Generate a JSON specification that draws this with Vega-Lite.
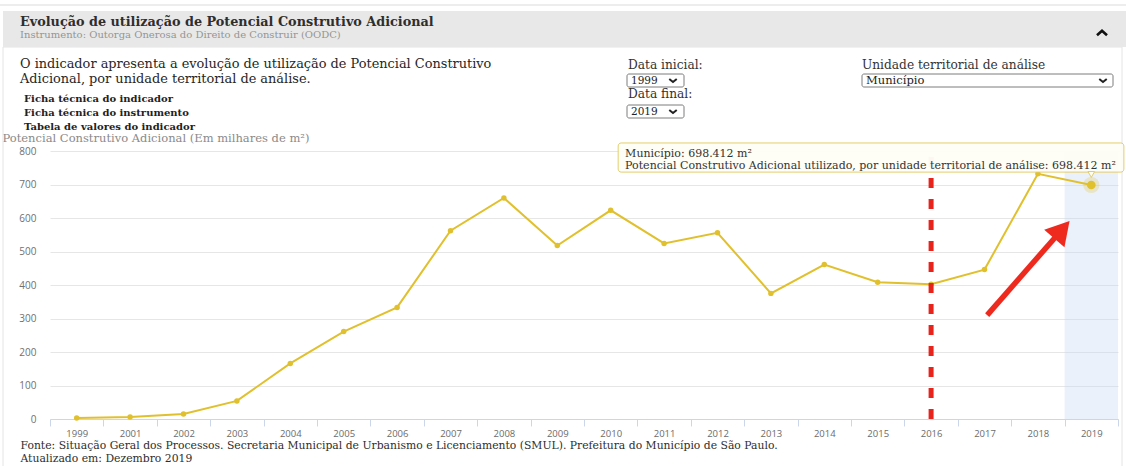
{
  "$schema": "https://vega.github.io/schema/vega-lite/v6.json",
  "width": 1068,
  "height": 268,
  "autosize": {"type": "none"},
  "padding": {"left": 50, "top": 151, "right": 8, "bottom": 47},
  "background": "#ffffff",
  "config": {"view": {"stroke": null}},
  "resolve": {"scale": {"x": "independent", "y": "independent"}},
  "layer": [
    {
      "data": {"values": [{"peca": "linha superior"}]},
      "mark": {"type": "rect", "fill": "#ededed"},
      "encoding": {"x": {"value": -50}, "x2": {"value": 1076}, "y": {"value": -147}, "y2": {"value": -145}}
    },
    {
      "data": {"values": [{"peca": "moldura"}]},
      "mark": {"type": "rect", "fill": null, "stroke": "#e4e4e4", "strokeWidth": 1},
      "encoding": {"x": {"value": -47}, "x2": {"value": 1072}, "y": {"value": -104}, "y2": {"value": 320}}
    },
    {
      "data": {"values": [{"peca": "cabeçalho"}]},
      "mark": {"type": "rect", "fill": "#e8e8e8"},
      "encoding": {"x": {"value": -47}, "x2": {"value": 1076}, "y": {"value": -140}, "y2": {"value": -104}}
    },
    {
      "data": {"values": [{"texto": "Evolução de utilização de Potencial Construtivo Adicional"}]},
      "mark": {"type": "text", "align": "left", "baseline": "alphabetic", "font": "DejaVu Serif", "fontWeight": "bold", "fontSize": 12.8, "color": "#2e2e2e"},
      "encoding": {"x": {"value": -30}, "y": {"value": -125}, "text": {"field": "texto"}}
    },
    {
      "data": {"values": [{"texto": "Instrumento: Outorga Onerosa do Direito de Construir (OODC)"}]},
      "mark": {"type": "text", "align": "left", "baseline": "alphabetic", "font": "DejaVu Serif", "fontSize": 10, "color": "#959595"},
      "encoding": {"x": {"value": -30}, "y": {"value": -113}, "text": {"field": "texto"}}
    },
    {
      "data": {"values": [{"peca": "recolher"}]},
      "mark": {"type": "point", "shape": "M-1,0.45L0,-0.45L1,0.45", "filled": false, "stroke": "#111111", "strokeWidth": 2.6, "size": 100, "opacity": 1},
      "encoding": {"x": {"value": 1052}, "y": {"value": -118}}
    },
    {
      "data": {"values": [{"texto": ["O indicador apresenta a evolução de utilização de Potencial Construtivo", "Adicional, por unidade territorial de análise."]}]},
      "mark": {"type": "text", "align": "left", "baseline": "alphabetic", "font": "DejaVu Serif", "fontSize": 12.9, "lineHeight": 14.5, "color": "#262626"},
      "encoding": {"x": {"value": -30}, "y": {"value": -83}, "text": {"field": "texto"}}
    },
    {
      "data": {"values": [{"texto": ["Ficha técnica do indicador", "Ficha técnica do instrumento", "Tabela de valores do indicador"]}]},
      "mark": {"type": "text", "align": "left", "baseline": "alphabetic", "font": "DejaVu Serif", "fontWeight": "bold", "fontSize": 10, "lineHeight": 14, "color": "#222222"},
      "encoding": {"x": {"value": -26}, "y": {"value": -49}, "text": {"field": "texto"}}
    },
    {
      "data": {"values": [{"texto": "Data inicial:"}]},
      "mark": {"type": "text", "align": "left", "baseline": "alphabetic", "font": "DejaVu Serif", "fontSize": 12.2, "color": "#333333"},
      "encoding": {"x": {"value": 578}, "y": {"value": -82}, "text": {"field": "texto"}}
    },
    {
      "data": {"values": [{"texto": "Data final:"}]},
      "mark": {"type": "text", "align": "left", "baseline": "alphabetic", "font": "DejaVu Serif", "fontSize": 12.2, "color": "#333333"},
      "encoding": {"x": {"value": 578}, "y": {"value": -53}, "text": {"field": "texto"}}
    },
    {
      "data": {"values": [{"texto": "Unidade territorial de análise"}]},
      "mark": {"type": "text", "align": "left", "baseline": "alphabetic", "font": "DejaVu Serif", "fontSize": 12.2, "color": "#333333"},
      "encoding": {"x": {"value": 812}, "y": {"value": -82}, "text": {"field": "texto"}}
    },
    {
      "data": {"values": [{"peca": "seletor inicial"}]},
      "mark": {"type": "rect", "fill": "#ffffff", "stroke": "#7d7d7d", "strokeWidth": 1, "cornerRadius": 2},
      "encoding": {"x": {"value": 577}, "x2": {"value": 634}, "y": {"value": -77}, "y2": {"value": -64}}
    },
    {
      "data": {"values": [{"peca": "seletor final"}]},
      "mark": {"type": "rect", "fill": "#ffffff", "stroke": "#7d7d7d", "strokeWidth": 1, "cornerRadius": 2},
      "encoding": {"x": {"value": 577}, "x2": {"value": 634}, "y": {"value": -46}, "y2": {"value": -33}}
    },
    {
      "data": {"values": [{"peca": "seletor unidade"}]},
      "mark": {"type": "rect", "fill": "#ffffff", "stroke": "#7d7d7d", "strokeWidth": 1, "cornerRadius": 2},
      "encoding": {"x": {"value": 812}, "x2": {"value": 1063}, "y": {"value": -77}, "y2": {"value": -64}}
    },
    {
      "data": {"values": [{"texto": "1999"}]},
      "mark": {"type": "text", "align": "left", "baseline": "alphabetic", "font": "DejaVu Serif", "fontSize": 10.5, "color": "#222222"},
      "encoding": {"x": {"value": 581}, "y": {"value": -67}, "text": {"field": "texto"}}
    },
    {
      "data": {"values": [{"texto": "2019"}]},
      "mark": {"type": "text", "align": "left", "baseline": "alphabetic", "font": "DejaVu Serif", "fontSize": 10.5, "color": "#222222"},
      "encoding": {"x": {"value": 581}, "y": {"value": -36}, "text": {"field": "texto"}}
    },
    {
      "data": {"values": [{"texto": "Município"}]},
      "mark": {"type": "text", "align": "left", "baseline": "alphabetic", "font": "DejaVu Serif", "fontSize": 11.5, "color": "#222222"},
      "encoding": {"x": {"value": 816}, "y": {"value": -67}, "text": {"field": "texto"}}
    },
    {
      "data": {"values": [{"peca": "seta 1"}]},
      "mark": {"type": "point", "shape": "M-1,-0.4L0,0.4L1,-0.4", "filled": false, "stroke": "#222222", "strokeWidth": 2, "size": 56, "opacity": 1},
      "encoding": {"x": {"value": 623}, "y": {"value": -70.5}}
    },
    {
      "data": {"values": [{"peca": "seta 2"}]},
      "mark": {"type": "point", "shape": "M-1,-0.4L0,0.4L1,-0.4", "filled": false, "stroke": "#222222", "strokeWidth": 2, "size": 56, "opacity": 1},
      "encoding": {"x": {"value": 623}, "y": {"value": -39.5}}
    },
    {
      "data": {"values": [{"peca": "seta 3"}]},
      "mark": {"type": "point", "shape": "M-1,-0.4L0,0.4L1,-0.4", "filled": false, "stroke": "#222222", "strokeWidth": 2, "size": 56, "opacity": 1},
      "encoding": {"x": {"value": 1053}, "y": {"value": -70.5}}
    },
    {
      "data": {"values": [{"ano": "2019"}]},
      "mark": {"type": "rect", "fill": "#c9dbf5", "opacity": 0.38},
      "encoding": {
        "x": {"field": "ano", "type": "ordinal", "scale": {"type": "band", "domain": ["1999", "2001", "2002", "2003", "2004", "2005", "2006", "2007", "2008", "2009", "2010", "2011", "2012", "2013", "2014", "2015", "2016", "2017", "2018", "2019"], "paddingInner": 0, "paddingOuter": 0}, "axis": null},
        "y": {"datum": 800, "type": "quantitative", "scale": {"domain": [0, 800], "nice": false}, "axis": null},
        "y2": {"datum": 0}
      }
    },
    {
      "data": {
        "values": [
          {"ano": "1999", "valor": 3},
          {"ano": "2001", "valor": 6},
          {"ano": "2002", "valor": 15},
          {"ano": "2003", "valor": 54},
          {"ano": "2004", "valor": 166},
          {"ano": "2005", "valor": 261},
          {"ano": "2006", "valor": 333},
          {"ano": "2007", "valor": 562},
          {"ano": "2008", "valor": 660},
          {"ano": "2009", "valor": 518},
          {"ano": "2010", "valor": 623},
          {"ano": "2011", "valor": 524},
          {"ano": "2012", "valor": 556},
          {"ano": "2013", "valor": 375},
          {"ano": "2014", "valor": 461},
          {"ano": "2015", "valor": 408},
          {"ano": "2016", "valor": 402},
          {"ano": "2017", "valor": 446},
          {"ano": "2018", "valor": 732},
          {"ano": "2019", "valor": 698.412}
        ]
      },
      "encoding": {
        "x": {
          "field": "ano",
          "type": "ordinal",
          "scale": {"type": "band", "domain": ["1999", "2001", "2002", "2003", "2004", "2005", "2006", "2007", "2008", "2009", "2010", "2011", "2012", "2013", "2014", "2015", "2016", "2017", "2018", "2019"], "paddingInner": 0, "paddingOuter": 0},
          "axis": {
            "labelAngle": 0,
            "labelFont": "Open Sans",
            "labelFontSize": 9.5,
            "labelColor": "#6b6b6b",
            "labelPadding": 2,
            "domainColor": "#ccd6eb",
            "tickColor": "#ccd6eb",
            "tickSize": 7,
            "tickBand": "extent",
            "grid": false,
            "title": ["Fonte: Situação Geral dos Processos. Secretaria Municipal de Urbanismo e Licenciamento (SMUL). Prefeitura do Município de São Paulo.", "Atualizado em: Dezembro 2019"],
            "titleFont": "DejaVu Serif",
            "titleFontSize": 10.8,
            "titleFontWeight": "normal",
            "titleColor": "#2e2e2e",
            "titleAlign": "left",
            "titleAnchor": "start",
            "titleBaseline": "alphabetic",
            "titleLineHeight": 13.5,
            "titleX": -30,
            "titleY": 29
          }
        },
        "y": {
          "field": "valor",
          "type": "quantitative",
          "scale": {"domain": [0, 800], "nice": false},
          "axis": {
            "values": [0, 100, 200, 300, 400, 500, 600, 700, 800],
            "domain": false,
            "ticks": false,
            "grid": true,
            "gridColor": "#e6e6e6",
            "gridWidth": 1,
            "labelOverlap": false,
            "labelFont": "Open Sans",
            "labelFontSize": 10,
            "labelColor": "#707070",
            "labelPadding": 14,
            "title": "Potencial Construtivo Adicional (Em milhares de m²)",
            "titleFont": "DejaVu Serif",
            "titleFontSize": 11.5,
            "titleFontWeight": "normal",
            "titleColor": "#8a8a8a",
            "titleAngle": 0,
            "titleAlign": "left",
            "titleBaseline": "alphabetic",
            "titleX": -48,
            "titleY": -10
          }
        }
      },
      "layer": [
        {"mark": {"type": "line", "color": "#e1c02e", "strokeWidth": 2}},
        {"mark": {"type": "point", "filled": true, "color": "#e1c02e", "size": 30, "opacity": 1}}
      ]
    },
    {
      "data": {"values": [{"ano": "2016", "marco": "2016"}]},
      "mark": {"type": "rule", "color": "#e8231b", "strokeWidth": 5, "strokeDash": [10, 11]},
      "encoding": {
        "x": {"field": "ano", "type": "ordinal", "scale": {"type": "band", "domain": ["1999", "2001", "2002", "2003", "2004", "2005", "2006", "2007", "2008", "2009", "2010", "2011", "2012", "2013", "2014", "2015", "2016", "2017", "2018", "2019"], "paddingInner": 0, "paddingOuter": 0}, "axis": null},
        "y": {"datum": 0, "type": "quantitative", "scale": {"domain": [0, 800], "nice": false}, "axis": null},
        "y2": {"datum": 800}
      }
    },
    {
      "data": {"values": [{"ano": "2019", "valor": 698.412}]},
      "encoding": {
        "x": {"field": "ano", "type": "ordinal", "scale": {"type": "band", "domain": ["1999", "2001", "2002", "2003", "2004", "2005", "2006", "2007", "2008", "2009", "2010", "2011", "2012", "2013", "2014", "2015", "2016", "2017", "2018", "2019"], "paddingInner": 0, "paddingOuter": 0}, "axis": null},
        "y": {"field": "valor", "type": "quantitative", "scale": {"domain": [0, 800], "nice": false}, "axis": null}
      },
      "layer": [
        {"mark": {"type": "point", "filled": true, "color": "#e1c02e", "size": 260, "opacity": 0.25}},
        {"mark": {"type": "point", "filled": true, "color": "#e1c02e", "size": 75, "opacity": 1}}
      ]
    },
    {
      "data": {"values": [{"anotacao": "destaque"}]},
      "layer": [
        {
          "mark": {"type": "rule", "color": "#ee2a1e", "strokeWidth": 5.5},
          "encoding": {
            "x": {"datum": 17.05, "type": "quantitative", "scale": {"domain": [-0.5, 19.5], "nice": false, "zero": false}, "axis": null},
            "x2": {"datum": 18.4},
            "y": {"datum": 310, "type": "quantitative", "scale": {"domain": [0, 800], "nice": false}, "axis": null},
            "y2": {"datum": 556}
          }
        },
        {
          "mark": {"type": "point", "shape": "triangle-up", "filled": true, "color": "#ee2a1e", "size": 720, "angle": 41, "opacity": 1},
          "encoding": {
            "x": {"datum": 18.45, "type": "quantitative", "scale": {"domain": [-0.5, 19.5], "nice": false, "zero": false}, "axis": null},
            "y": {"datum": 565, "type": "quantitative", "scale": {"domain": [0, 800], "nice": false}, "axis": null}
          }
        },
        {
          "mark": {"type": "rect", "fill": "#fefef6", "stroke": "#e3cd6a", "strokeWidth": 1, "cornerRadius": 3, "opacity": 0.97},
          "encoding": {
            "x": {"datum": 10.14, "type": "quantitative", "scale": {"domain": [-0.5, 19.5], "nice": false, "zero": false}, "axis": null},
            "x2": {"datum": 19.61},
            "y": {"datum": 824, "type": "quantitative", "scale": {"domain": [0, 800], "nice": false}, "axis": null},
            "y2": {"datum": 737}
          }
        },
        {
          "mark": {"type": "point", "shape": "triangle-down", "filled": true, "fill": "#fefef6", "stroke": "#e3cd6a", "strokeWidth": 1, "size": 45, "opacity": 1},
          "encoding": {
            "x": {"datum": 19.0, "type": "quantitative", "scale": {"domain": [-0.5, 19.5], "nice": false, "zero": false}, "axis": null},
            "y": {"datum": 730, "type": "quantitative", "scale": {"domain": [0, 800], "nice": false}, "axis": null}
          }
        }
      ]
    },
    {
      "data": {"values": [{"linhas": ["Município: 698.412 m²", "Potencial Construtivo Adicional utilizado, por unidade territorial de análise: 698.412 m²"]}]},
      "mark": {"type": "text", "align": "left", "baseline": "alphabetic", "font": "DejaVu Serif", "fontSize": 11, "lineHeight": 11.5, "color": "#333333"},
      "encoding": {
        "x": {"datum": 10.27, "type": "quantitative", "scale": {"domain": [-0.5, 19.5], "nice": false, "zero": false}, "axis": null},
        "y": {"datum": 781, "type": "quantitative", "scale": {"domain": [0, 800], "nice": false}, "axis": null},
        "text": {"field": "linhas"}
      }
    }
  ]
}
